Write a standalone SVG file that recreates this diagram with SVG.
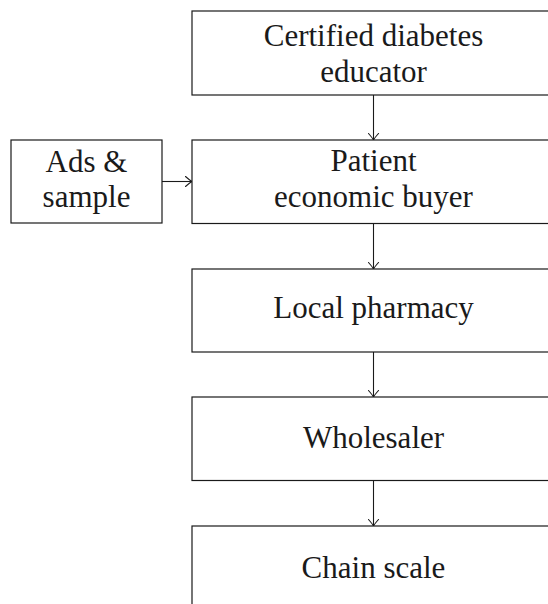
<svg xmlns="http://www.w3.org/2000/svg" width="548" height="604" viewBox="0 0 548 604">
  <style>
    .box { fill: #ffffff; stroke: #1a1a1a; stroke-width: 1.2; }
    .lbl { font-family: 'Liberation Serif', 'Times New Roman', Tinos, 'Noto Serif', 'DejaVu Serif', serif; font-size: 31px; fill: #1a1a1a; text-anchor: middle; }
    .edge { fill: none; stroke: #1a1a1a; stroke-width: 1.1; }
  </style>
  <defs>
    <!-- open curved "to" arrowhead -->
    <marker id="to" viewBox="-7 -6 8 12" markerWidth="8" markerHeight="12" refX="0" refY="0" orient="auto" markerUnits="userSpaceOnUse">
      <path d="M -6.5 -5 Q -2 -1 0 0 Q -2 1 -6.5 5" fill="none" stroke="#1a1a1a" stroke-width="1.1" stroke-linecap="round"/>
    </marker>
  </defs>

  <g id="connectors">
    <line class="edge" x1="373.5" y1="95" x2="373.5" y2="140" marker-end="url(#to)"/>
    <line class="edge" x1="162" y1="181.5" x2="192" y2="181.5" marker-end="url(#to)"/>
    <line class="edge" x1="373.5" y1="223.5" x2="373.5" y2="269" marker-end="url(#to)"/>
    <line class="edge" x1="373.5" y1="352" x2="373.5" y2="397" marker-end="url(#to)"/>
    <line class="edge" x1="373.5" y1="480.5" x2="373.5" y2="526" marker-end="url(#to)"/>
  </g>

  <g id="educator">
    <rect class="box" x="192" y="11" width="363" height="84"/>
    <text class="lbl" x="373.5" y="46">Certified diabetes</text>
    <text class="lbl" x="373.5" y="82">educator</text>
  </g>

  <g id="ads">
    <rect class="box" x="11" y="140" width="151" height="83"/>
    <text class="lbl" x="86.5" y="171.5">Ads &amp;</text>
    <text class="lbl" x="86.5" y="206.5">sample</text>
  </g>

  <g id="patient">
    <rect class="box" x="192" y="140" width="363" height="83.5"/>
    <text class="lbl" x="373.5" y="171">Patient</text>
    <text class="lbl" x="373.5" y="206.5">economic buyer</text>
  </g>

  <g id="pharmacy">
    <rect class="box" x="192" y="269" width="363" height="83"/>
    <text class="lbl" x="373.5" y="318">Local pharmacy</text>
  </g>

  <g id="wholesaler">
    <rect class="box" x="192" y="397" width="363" height="83.5"/>
    <text class="lbl" x="373.5" y="448">Wholesaler</text>
  </g>

  <g id="chain">
    <rect class="box" x="192" y="526" width="363" height="84"/>
    <text class="lbl" x="373.5" y="578">Chain scale</text>
  </g>
</svg>
